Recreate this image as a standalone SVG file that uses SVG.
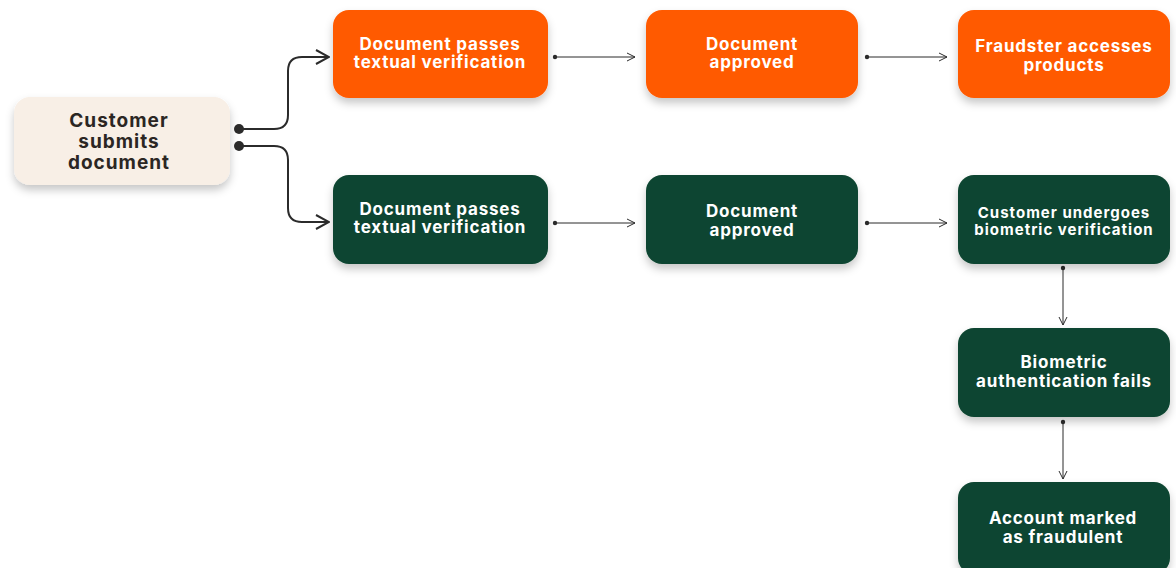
<svg xmlns="http://www.w3.org/2000/svg" width="1176" height="568" viewBox="0 0 1176 568">
<defs>
<filter id="sh" x="-20%" y="-20%" width="140%" height="160%">
<feDropShadow dx="0" dy="5" stdDeviation="4" flood-color="#000" flood-opacity="0.22"/>
</filter>
<marker id="ah" viewBox="0 0 10 10" refX="9" refY="5" markerWidth="10" markerHeight="10" markerUnits="userSpaceOnUse" orient="auto">
<path d="M1,1 L9,5 L1,9" fill="none" stroke="#2b2b2b" stroke-width="1"/>
</marker>
<marker id="ahb" viewBox="0 0 16 16" refX="15" refY="8" markerWidth="16" markerHeight="16" markerUnits="userSpaceOnUse" orient="auto">
<path d="M2,1 L15,8 L2,15" fill="none" stroke="#2b2b2b" stroke-width="2"/>
</marker>
<marker id="dot" viewBox="0 0 6 6" refX="3" refY="3" markerWidth="6" markerHeight="6" markerUnits="userSpaceOnUse">
<circle cx="3" cy="3" r="2.2" fill="#2b2b2b"/>
</marker>
</defs>
<style>
.o{fill:#ff5a05;filter:url(#sh)}
.g{fill:#0b4530;filter:url(#sh)}
.c{fill:#f8efe6;filter:url(#sh)}
text{font-family:Inter,"Liberation Sans",sans-serif;font-weight:700;text-anchor:middle}
.w{fill:#ffffff;font-size:17px;letter-spacing:0.8px}
.ws{fill:#ffffff;font-size:15px;letter-spacing:1px}
.d{fill:#2b2623;font-size:19px;letter-spacing:1px}
.ln{fill:none;stroke:#2b2b2b;stroke-width:1}
.lb{fill:none;stroke:#2b2b2b;stroke-width:2}
</style>
<g id="connectors">
<path class="lb" d="M239,129 H274 Q288,129 288,115 V71 Q288,57 302,57 H329" marker-end="url(#ahb)"/>
<path class="lb" d="M239,146 H274 Q288,146 288,160 V208 Q288,222 302,222 H329" marker-end="url(#ahb)"/>
<circle cx="239" cy="129" r="5" fill="#2b2b2b"/>
<circle cx="239" cy="146" r="5" fill="#2b2b2b"/>
<path class="ln" d="M555,57 H635" marker-start="url(#dot)" marker-end="url(#ah)"/>
<path class="ln" d="M867,57 H947" marker-start="url(#dot)" marker-end="url(#ah)"/>
<path class="ln" d="M555,223 H635" marker-start="url(#dot)" marker-end="url(#ah)"/>
<path class="ln" d="M867,223 H947" marker-start="url(#dot)" marker-end="url(#ah)"/>
<path class="ln" d="M1063,268 V325" marker-start="url(#dot)" marker-end="url(#ah)"/>
<path class="ln" d="M1063,422 V479" marker-start="url(#dot)" marker-end="url(#ah)"/>
</g>
<g id="n-customer">
<rect class="c" x="14" y="97" width="216" height="88" rx="16"/>
<text class="d" x="119" y="127">Customer</text>
<text class="d" x="119" y="148">submits</text>
<text class="d" x="119" y="169">document</text>
</g>
<g id="n-o1">
<rect class="o" x="333" y="10" width="215" height="88" rx="16"/>
<text class="w" x="440" y="50">Document passes</text>
<text class="w" x="440" y="68">textual verification</text>
</g>
<g id="n-o2">
<rect class="o" x="646" y="10" width="212" height="88" rx="16"/>
<text class="w" x="752" y="50">Document</text>
<text class="w" x="752" y="68">approved</text>
</g>
<g id="n-o3">
<rect class="o" x="958" y="10" width="212" height="88" rx="16"/>
<text class="w" x="1064" y="52">Fraudster accesses</text>
<text class="w" x="1064" y="71">products</text>
</g>
<g id="n-g1">
<rect class="g" x="333" y="175" width="215" height="89" rx="16"/>
<text class="w" x="440" y="215">Document passes</text>
<text class="w" x="440" y="233">textual verification</text>
</g>
<g id="n-g2">
<rect class="g" x="646" y="175" width="212" height="89" rx="16"/>
<text class="w" x="752" y="217">Document</text>
<text class="w" x="752" y="236">approved</text>
</g>
<g id="n-g3">
<rect class="g" x="958" y="175" width="212" height="89" rx="16"/>
<text class="ws" x="1064" y="218">Customer undergoes</text>
<text class="ws" x="1064" y="235">biometric verification</text>
</g>
<g id="n-g4">
<rect class="g" x="958" y="328" width="212" height="89" rx="16"/>
<text class="w" x="1064" y="368">Biometric</text>
<text class="w" x="1064" y="387">authentication fails</text>
</g>
<g id="n-g5">
<rect class="g" x="958" y="482" width="212" height="92" rx="16"/>
<text class="w" x="1063" y="524">Account marked</text>
<text class="w" x="1063" y="543">as fraudulent</text>
</g>
</svg>
